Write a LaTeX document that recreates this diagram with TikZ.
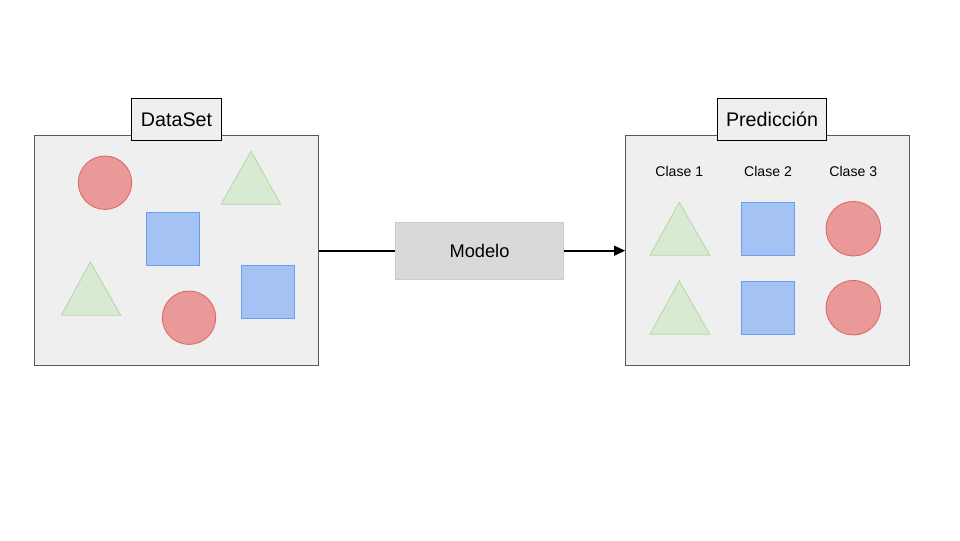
\documentclass[tikz,border=0pt]{standalone}
\usepackage{fontspec}
\setmainfont{Liberation Sans}
\usetikzlibrary{arrows.meta}

\definecolor{boxfill}{HTML}{EFEFEF}
\definecolor{boxline}{HTML}{595959}
\definecolor{modfill}{HTML}{D9D9D9}
\definecolor{modline}{HTML}{CCCCCC}
\definecolor{redfill}{HTML}{EA9999}
\definecolor{redline}{HTML}{E06666}
\definecolor{greenfill}{HTML}{D9EAD3}
\definecolor{greenline}{HTML}{B6D7A8}
\definecolor{bluefill}{HTML}{A4C2F4}
\definecolor{blueline}{HTML}{6D9EEB}

\tikzset{
    panel/.style={draw=boxline,fill=boxfill,line width=0.7pt,minimum width=7.1cm,minimum height=5.75cm,inner sep=0pt},
    tag/.style={draw=black,fill=boxfill,line width=0.7pt,minimum height=1.05cm,inner sep=0pt,font=\fontsize{14}{17}\selectfont},
    modelbox/.style={draw=modline,fill=modfill,line width=0.6pt,minimum width=4.21cm,minimum height=1.425cm,font=\fontsize{13}{16}\selectfont},
    classlabel/.style={font=\fontsize{10}{12}\selectfont},
    redshape/.style={draw=redline,fill=redfill,line width=0.6pt},
    greenshape/.style={draw=greenline,fill=greenfill,line width=0.6pt},
    blueshape/.style={draw=blueline,fill=bluefill,line width=0.6pt},
    conn/.style={line width=1.4pt}
}

\begin{document}
\begin{tikzpicture}[x=0.025cm,y=-0.025cm]
        \useasboundingbox[fill=white] (0,0) rectangle (960,540);

        \node (dataset) [panel] at (176.3,250.7) {};
        \node (pred) [panel] at (767.8,250.7) {};
        \node (datatag) [tag,minimum width=2.26cm] at (176.5,119.3) {DataSet};
        \node (predtag) [tag,minimum width=2.735cm] at (772,119.3) {Predicción};
        \node (modelo) [modelbox] at (479.5,250.7) {Modelo};

        % conexiones
        \draw[conn] (dataset.east) -- (modelo.west);
        \draw[conn,-{Triangle[length=8pt,width=7pt]}] (modelo.east) -- (pred.west);

        % figuras del dataset
        \draw[redshape] (105,182.7) circle[radius=26.7];
        \draw[redshape] (189,317.7) circle[radius=26.7];
        \draw[greenshape] (251,151.3) -- (280.7,204.3) -- (221,204.3) -- cycle;
        \draw[greenshape] (90.3,262) -- (120.7,315.3) -- (61.3,315.3) -- cycle;
        \draw[blueshape] (146,212) rectangle (199.7,265.3);
        \draw[blueshape] (241,265.3) rectangle (294.7,318.3);

        % prediccion por clase
        \node (clase1) [classlabel] at (679.3,171) {Clase 1};
        \node (clase2) [classlabel] at (768,171) {Clase 2};
        \node (clase3) [classlabel] at (853.3,171) {Clase 3};
        \draw[greenshape] (679.3,202.3) -- (709.7,255.3) -- (650,255.3) -- cycle;
        \draw[greenshape] (679.3,281) -- (709.7,334.3) -- (650,334.3) -- cycle;
        \draw[blueshape] (741,202.3) rectangle (794.7,255.3);
        \draw[blueshape] (741,281) rectangle (794.7,334.3);
        \draw[redshape] (853.3,228.7) circle[radius=27.3];
        \draw[redshape] (853.3,307.7) circle[radius=27.3];
\end{tikzpicture}
\end{document}
